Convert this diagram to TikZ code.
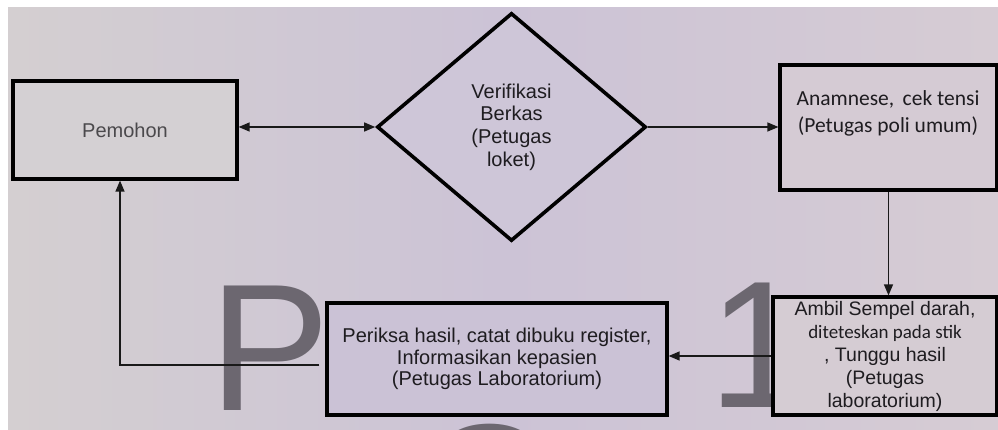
\documentclass[tikz,border=0pt]{standalone}
\usepackage{fontspec}
\setmainfont{Liberation Sans}
\newfontfamily\calib{Carlito}
\usetikzlibrary{shapes.geometric,arrows.meta}
\definecolor{bgL}{RGB}{212,207,209}
\definecolor{bgM}{RGB}{204,195,214}
\definecolor{bgR}{RGB}{214,204,212}
\definecolor{wm}{RGB}{108,103,112}
\definecolor{ink}{RGB}{30,28,32}
\begin{document}
\begin{tikzpicture}[x=1pt,y=-1pt,
  box/.style={draw=black,line width=3.2pt,rectangle,inner sep=0pt,align=center,
    text=ink,font=\fontsize{20}{21.5}\selectfont},
  decision/.style={draw=black,line width=3.6pt,diamond,inner sep=0pt,align=center,
    text=ink,font=\fontsize{20}{22.7}\selectfont},
  conn/.style={line width=1.3pt,draw=black!90},
  tipend/.style={-{Triangle[length=11pt,width=9pt]}},
  tipboth/.style={{Triangle[length=11pt,width=9pt]}-{Triangle[length=11pt,width=9pt]}},
  wmark/.style={text=wm,inner sep=0pt,font=\fontsize{181}{181}\selectfont}]
\useasboundingbox (0,0) rectangle (998,430);
\clip (0,0) rectangle (998,430);
\fill[white] (0,0) rectangle (998,430);
\shade[left color=bgL,right color=bgR,middle color=bgM] (8,8) rectangle (998,430);
% watermark letters
\node[wmark,anchor=base west] (wmP) at (209,410) {P};
\node[wmark,anchor=base west] (wm1) at (708,407) {1};
\node[wmark,anchor=base west] (wmO) at (419,550) {O};
% boxes
\node[box,fill={rgb,255:red,212;green,208;blue,211},minimum width=224,minimum height=98,text=ink!80]
  (pem) at (125,130) {Pemohon};
\node[decision,fill={rgb,255:red,206;green,198;blue,216},minimum width=269,minimum height=228]
  (ver) at (511.5,127) {Verifikasi\\Berkas\\(Petugas\\loket)};
\node[box,fill={rgb,255:red,213;green,203;blue,212},minimum width=217,minimum height=125]
  (ana) at (888.5,127.5) {};
\node[text=ink,align=center,inner sep=0pt,font=\calib\fontsize{21.5}{27}\selectfont]
  (anatext) at (888,113) {Anamnese,\, cek tensi\\(Petugas poli umum)};
\node[box,fill={rgb,255:red,213;green,204;blue,211},minimum width=224,minimum height=118,
  font=\fontsize{19.5}{23}\selectfont]
  (amb) at (885,356) {Ambil Sempel darah,\\{\calib\fontsize{19}{23}\selectfont diteteskan pada stik}\\, Tunggu hasil\\(Petugas\\laboratorium)};
\node[box,fill={rgb,255:red,203;green,194;blue,214},minimum width=340,minimum height=112]
  (per) at (497,359) {Periksa hasil, catat dibuku register,\\Informasikan kepasien\\(Petugas Laboratorium)};
% connectors
\draw[conn,tipboth] (pem.east |- ver.west) -- (ver.west);
\draw[conn,tipend] (ver.east) -- (ver.east -| ana.west);
\draw[conn,tipend] (ana.south) -- (ana.south |- amb.north);
\draw[conn,tipend] (amb.west) -- (amb.west -| per.east);
\coordinate (retstart) at ([xshift=-6pt,yshift=-6pt]per.west);
\coordinate (retcol) at (120,0);
\coordinate (bend) at (retstart -| retcol);
\draw[conn,tipend] (retstart) -- (bend) -- (bend |- pem.south);
\end{tikzpicture}
\end{document}
